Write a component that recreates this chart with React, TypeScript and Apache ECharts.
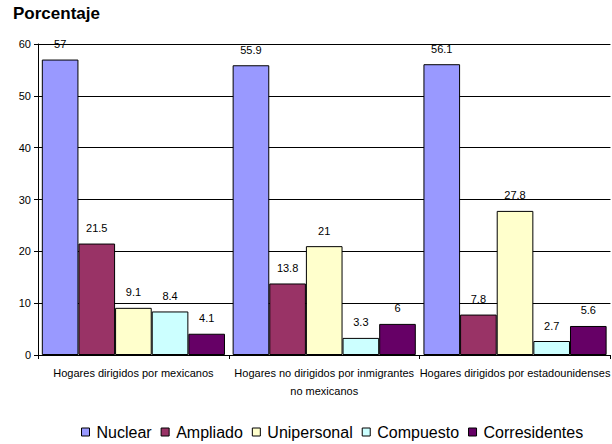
import React, { useEffect, useRef } from "react";
import * as echarts from "echarts";

const categories = [
  "Hogares dirigidos por mexicanos",
  "Hogares no dirigidos por inmigrantes\nno mexicanos",
  "Hogares dirigidos por estadounidenses",
];
const seriesNames = ["Nuclear", "Ampliado", "Unipersonal", "Compuesto", "Corresidentes"];
const nuclear = [57, 55.9, 56.1];
const ampliado = [21.5, 13.8, 7.8];
const unipersonal = [9.1, 21, 27.8];
const compuesto = [8.4, 3.3, 2.7];
const corresidentes = [4.1, 6, 5.6];
const colors = ["#9999FF", "#993366", "#FFFFCC", "#CCFFFF", "#660066"];

const FONT = "'Liberation Sans', Arial, sans-serif";

export default function App() {
  const ref = useRef<HTMLDivElement>(null);
  useEffect(() => {
    if (!ref.current) return;
    const chart = echarts.init(ref.current, undefined, { renderer: "svg" });
    const values = [nuclear, ampliado, unipersonal, compuesto, corresidentes];
    chart.setOption({
      animation: false,
      backgroundColor: "#ffffff",
      textStyle: { fontFamily: FONT },
      title: {
        text: "Porcentaje",
        left: 8,
        top: 0,
        textStyle: { fontFamily: FONT, fontSize: 17, fontWeight: "bold", color: "#000" },
      },
      legend: {
        left: 76,
        top: 419,
        itemWidth: 8,
        itemHeight: 8,
        itemGap: 9,
        icon: "rect",
        itemStyle: { borderColor: "#000", borderWidth: 1 },
        textStyle: { fontFamily: FONT, fontSize: 16, color: "#000", padding: [0, 0, 0, 2] },
        data: seriesNames,
      },
      grid: { left: 38, top: 44, width: 581, height: 311, containLabel: false },
      xAxis: {
        type: "category",
        data: categories,
        axisLine: { lineStyle: { color: "#000", width: 1 } },
        axisTick: { show: true, length: 4, lineStyle: { color: "#000" } },
        axisLabel: {
          interval: 0,
          hideOverlap: false,
          margin: 9,
          fontSize: 11,
          lineHeight: 18,
          color: "#000",
          fontFamily: FONT,
        },
      },
      yAxis: {
        type: "value",
        min: 0,
        max: 60,
        interval: 10,
        axisLine: { show: true, lineStyle: { color: "#000", width: 1 } },
        axisTick: { show: true, length: 4, lineStyle: { color: "#000" } },
        axisLabel: { margin: 7, fontSize: 11, color: "#000", fontFamily: FONT },
        splitLine: { show: true, lineStyle: { color: "#000", width: 1 } },
      },
      series: seriesNames.map((name, i) => ({
        name,
        type: "bar",
        data: values[i],
        barGap: "0%",
        barCategoryGap: "4%",
        itemStyle: { color: colors[i], borderColor: "#000", borderWidth: 1 },
        label: {
          show: true,
          position: "top",
          distance: 10,
          fontSize: 11,
          color: "#000",
          fontFamily: FONT,
        },
      })),
    });
    return () => chart.dispose();
  }, []);
  return (
    <div
      ref={ref}
      style={{ position: "fixed", left: 0, top: 0, width: 612, height: 444 }}
    />
  );
}
